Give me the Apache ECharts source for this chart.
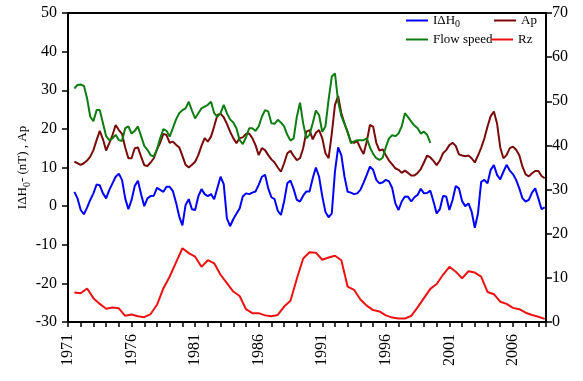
<!DOCTYPE html>
<html><head><meta charset="utf-8">
<script src="https://cdn.jsdelivr.net/npm/echarts@6/dist/echarts.min.js"></script>
<style>html,body{margin:0;padding:0;background:#fff}#c{width:583px;height:381px}</style>
</head><body><div id="c"></div>
<script>
// ---- axis ranges / tick labels ----
const yearMin = 1971, yearMax = 2008.6;
const xTickLabels = ['1971','1976','1981','1986','1991','1996','2001','2006'];
const leftTicks = [-30,-20,-10,0,10,20,30,40,50];
const rightTicks = [0,10,20,30,40,50,60,70];

// ---- sampling of the curves (years) ----
const qStart = 1971.5, qStep = 0.25;   // IΔH0, Ap, Flow speed
const rzStart = 1971.5, rzStep = 0.5;  // Rz

// IΔH0 (nT), left axis
const idh0 = [
 3.7, 2.0, -1.0, -2.1, -0.4, 1.6, 3.3, 5.6, 5.4, 3.3, 2.0, 4.2, 5.9, 7.6, 8.4, 6.8,
 2.0, -0.8, 1.6, 5.2, 6.6, 3.1, 0.0, 2.0, 2.6, 2.7, 4.7, 4.2, 3.7, 5.0, 5.0, 3.9,
 0.9, -2.7, -5.0, 0.3, 1.8, -0.8, -1.0, 2.5, 4.4, 3.1, 2.6, 3.1, 1.8, 4.7, 7.6, 5.7,
 -3.2, -5.2, -3.4, -2.0, -0.6, 2.5, 3.3, 3.1, 3.5, 3.8, 5.5, 7.6, 8.1, 4.6, 2.3, 1.8,
 -1.2, -2.3, 1.2, 5.9, 6.6, 4.4, 1.6, 1.2, 2.7, 3.8, 3.8, 7.2, 10.0, 7.6, 2.6, -1.5,
 -2.9, -1.9, 9.0, 15.2, 13.2, 7.6, 3.7, 3.5, 3.1, 3.3, 4.2, 6.1, 8.1, 10.2, 9.4, 6.8,
 5.9, 6.1,
 6.8, 6.4, 4.7, 0.7, -1.0, 1.2, 2.5, 2.4, 1.2, 2.3, 2.9, 4.5, 3.3, 3.4, 4.0, 1.2,
 -1.9, -0.8, 2.6, 2.5, -1.0, 1.6, 5.2, 4.6, 1.3, 0.0, 0.7, -1.4, -5.6, -1.9, 6.3, 6.8,
 5.9, 9.4, 10.6, 8.1, 6.9, 8.9, 10.7, 9.2, 8.3, 6.8, 4.6, 2.0, 1.2, 1.6, 3.5, 4.6,
 2.0, -0.8, -0.3
];

// Ap, left axis
const ap = [
 11.5, 11.1, 10.7, 11.1, 11.8, 12.8, 14.5, 17.1, 19.5, 17.3, 14.4, 16.3, 18.4, 21.0, 19.7, 18.7,
 15.2, 12.4, 12.4, 15.0, 15.2, 12.8, 10.6, 10.4, 11.3, 12.4, 14.7, 16.4, 18.7, 18.4, 16.4, 16.7,
 15.9, 15.2, 13.0, 10.7, 10.0, 10.7, 11.5, 13.2, 15.6, 17.6, 16.7, 18.0, 20.7, 23.6, 23.9, 23.0,
 21.3, 19.3, 17.6, 16.3, 17.6, 17.8, 18.7, 18.8, 17.6, 15.8, 13.2, 15.0, 14.5, 13.2, 12.1, 11.3,
 10.0, 8.9, 11.1, 13.7, 14.3, 13.0, 11.9, 12.4, 15.0, 19.3, 19.7, 17.3, 19.0, 19.7, 17.6, 13.7,
 12.4, 18.8, 26.2, 28.5, 24.0, 21.4, 19.0, 16.7, 16.4, 16.8, 15.0, 13.5, 16.7, 21.0, 20.6, 16.4,
 14.4, 14.7,
 13.2, 11.8, 10.8, 9.8, 9.4, 8.6, 9.2, 8.6, 7.9, 7.9, 8.6, 9.6, 11.3, 13.1, 12.6, 11.7,
 10.6, 11.8, 13.7, 14.5, 15.8, 16.4, 15.6, 13.4, 13.1, 12.9, 13.1, 12.4, 11.3, 13.1, 15.1, 17.5,
 20.6, 23.3, 24.5, 21.4, 15.2, 12.4, 13.2, 15.0, 15.4, 14.6, 13.2, 10.2, 8.2, 7.7, 8.5, 9.1,
 9.1, 7.8, 7.2
];

// Flow speed (x10 km/s), right axis
const flowSpeed = [
 52.9, 53.7, 53.8, 53.5, 50.7, 46.5, 45.5, 48.0, 48.0, 45.0, 42.1, 41.2, 41.6, 42.4, 41.2, 41.0,
 43.9, 44.3, 42.7, 43.3, 44.3, 42.1, 39.9, 39.0, 37.8, 37.5, 39.1, 41.6, 43.7, 43.3, 42.0, 43.9,
 45.9, 47.3, 48.0, 48.4, 49.9, 47.9, 46.1, 47.3, 48.4, 48.8, 49.2, 49.9, 47.3, 46.5, 47.3, 49.2,
 47.3, 45.9, 45.2, 43.9, 41.2, 40.3, 41.8, 43.9, 43.9, 43.3, 44.3, 46.5, 48.0, 47.7, 45.0, 44.9,
 45.8, 45.2, 44.3, 42.4, 41.1, 41.6, 46.5, 49.7, 45.0, 41.6, 42.4, 45.0, 47.9, 46.9, 43.1, 44.3,
 50.4, 55.6, 56.3, 49.9, 46.7, 44.9, 43.1, 40.5, 40.9, 41.2, 41.2, 41.2, 41.6, 39.6, 38.1, 37.1,
 36.7, 37.2,
 39.6, 41.6, 42.3, 42.1, 42.7, 44.3, 47.3, 46.4, 45.4, 44.5, 43.9, 42.7, 43.1, 42.4, 40.6
];

// Rz (/10), right axis
const rz = [
 6.7, 6.5, 7.6, 5.4, 4.1, 3.0, 3.3, 3.1, 1.4, 1.7, 1.3, 1.1, 1.8, 3.9, 7.6, 10.3,
 13.5, 16.7, 15.6, 14.8, 12.5, 14.0, 13.3, 10.7, 8.8, 6.9, 5.9, 2.9, 2.0, 2.0, 1.5, 1.3,
 1.6, 3.5, 4.8, 9.8, 14.4, 15.8, 15.7, 14.1, 14.6, 15.0, 14.0, 8.0, 7.3, 5.1, 3.7, 2.7,
 2.4, 1.5, 1.0, 0.8, 0.8, 1.4, 3.3, 5.4, 7.5, 8.6, 10.7, 12.5, 11.4, 9.9, 11.5, 11.2,
 10.3, 6.8, 6.3, 4.6, 4.1, 3.2, 2.9, 2.1, 1.6, 1.2, 0.7
];

const FONT = '"Liberation Serif", "Times New Roman", serif';
const pairs = (arr, start, step) => arr.map((v, i) => [+(start + i * step).toFixed(3), v]);

const chart = echarts.init(document.getElementById('c'), null, {renderer: 'canvas'});
const legendBase = {
  orient: 'horizontal', icon: 'rect', itemWidth: 22, itemHeight: 2, padding: 0,
  textStyle: {fontFamily: FONT, fontSize: 13, color: '#000',
    rich: {n: {fontFamily: FONT, fontSize: 13, color: '#000', lineHeight: 18, verticalAlign: 'middle'},
           s: {fontFamily: FONT, fontSize: 10, color: '#000', verticalAlign: 'bottom', lineHeight: 18}}},
  formatter: name => name === 'IΔH0' ? '{n|IΔH}{s|0}' : name
};
chart.setOption({
  animation: false,
  backgroundColor: '#fff',
  grid: {left: 68, right: 37, top: 13, bottom: 59, show: true, borderColor: '#000', borderWidth: 2, containLabel: false},
  legend: [
    Object.assign({}, legendBase, {data: ['IΔH0'], left: 406, top: 14}),
    Object.assign({}, legendBase, {data: ['Ap'], left: 494, top: 14}),
    Object.assign({}, legendBase, {data: ['Flow speed'], left: 406, top: 33}),
    Object.assign({}, legendBase, {data: ['Rz'], left: 491, top: 33})
  ],
  xAxis: {
    type: 'value', min: yearMin, max: yearMax, interval: 1,
    axisLine: {show: true, onZero: false, lineStyle: {color: '#000', width: 2}},
    axisTick: {show: true, length: 5, lineStyle: {color: '#000', width: 1.5}},
    splitLine: {show: false},
    axisLabel: {
      rotate: 90, margin: 12, color: '#000', fontFamily: FONT, fontSize: 16,
      showMinLabel: true, showMaxLabel: true,
      formatter: v => {
        const r = Math.round(v);
        return (Math.abs(v - r) < 1e-6 && xTickLabels.includes(String(r))) ? String(r) : '';
      }
    }
  },
  yAxis: [
    {
      type: 'value', position: 'left', min: leftTicks[0], max: leftTicks[leftTicks.length - 1], interval: 10,
      name: '{n|IΔH}{s|0}{n|- (nT) , Ap}', nameLocation: 'middle', nameGap: 36, nameMoveOverlap: false,
      nameTextStyle: {fontFamily: FONT, fontSize: 13, color: '#000',
        rich: {n: {fontFamily: FONT, fontSize: 13, color: '#000', lineHeight: 18, verticalAlign: 'middle'},
               s: {fontFamily: FONT, fontSize: 10, color: '#000', verticalAlign: 'bottom', lineHeight: 18}}},
      axisLine: {show: true, onZero: false, lineStyle: {color: '#000', width: 2}},
      axisTick: {show: true, length: 6, lineStyle: {color: '#000', width: 1.5}},
      splitLine: {show: false},
      axisLabel: {margin: 11, color: '#000', fontFamily: FONT, fontSize: 16}
    },
    {
      type: 'value', position: 'right', min: rightTicks[0], max: rightTicks[rightTicks.length - 1], interval: 10,
      axisLine: {show: true, onZero: false, lineStyle: {color: '#000', width: 2}},
      axisTick: {show: true, length: 6, lineStyle: {color: '#000', width: 1.5}},
      splitLine: {show: false},
      axisLabel: {margin: 6, color: '#000', fontFamily: FONT, fontSize: 16}
    }
  ],
  series: [
    {name: 'IΔH0', type: 'line', yAxisIndex: 0, data: pairs(idh0, qStart, qStep), showSymbol: false, symbol: 'none',
     lineStyle: {color: '#0000ff', width: 2}, itemStyle: {color: '#0000ff'}},
    {name: 'Ap', type: 'line', yAxisIndex: 0, data: pairs(ap, qStart, qStep), showSymbol: false, symbol: 'none',
     lineStyle: {color: '#7a0a0a', width: 2}, itemStyle: {color: '#7a0a0a'}},
    {name: 'Flow speed', type: 'line', yAxisIndex: 1, data: pairs(flowSpeed, qStart, qStep), showSymbol: false, symbol: 'none',
     lineStyle: {color: '#0d7d12', width: 2}, itemStyle: {color: '#0d7d12'}},
    {name: 'Rz', type: 'line', yAxisIndex: 1, data: pairs(rz, rzStart, rzStep), showSymbol: false, symbol: 'none',
     lineStyle: {color: '#ee1111', width: 2}, itemStyle: {color: '#ee1111'}}
  ]
});
</script></body></html>
